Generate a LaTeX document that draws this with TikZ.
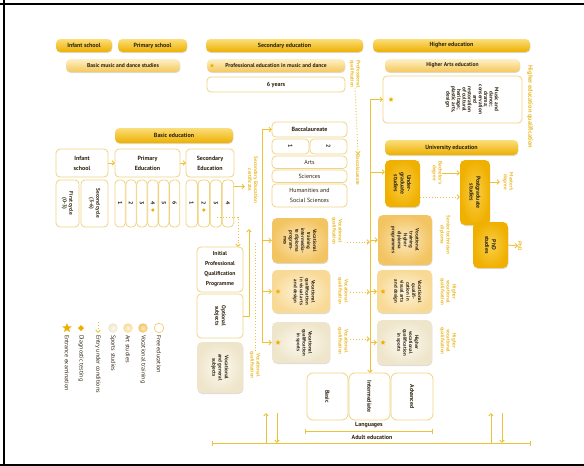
\documentclass[tikz,border=0pt]{standalone}
\usepackage{fontspec}
\setmainfont{PT Sans}
\usetikzlibrary{arrows.meta,shadows,shapes.geometric}

\definecolor{edgold}{HTML}{EEB000}
\definecolor{barTop}{HTML}{FBDD7A}
\definecolor{barLtTop}{HTML}{FDF0C8}
\definecolor{barLt}{HTML}{F5C85A}
\definecolor{edline}{HTML}{EBC238}
\definecolor{edframe}{HTML}{F0D382}
\definecolor{edtext}{HTML}{2E2410}
\definecolor{edlabel}{HTML}{E9BA2E}
\definecolor{vocOut}{HTML}{F3C462}
\definecolor{vocIn}{HTML}{FCE9BE}
\definecolor{artOut}{HTML}{F8DA96}
\definecolor{artIn}{HTML}{FEF4DC}
\definecolor{sptOut}{HTML}{EEE5CA}
\definecolor{sptIn}{HTML}{FCFAF1}
\definecolor{uniOut}{HTML}{F0B000}
\definecolor{uniIn}{HTML}{FAD04A}

\begin{document}
\begin{tikzpicture}[x=1pt,y=-1pt,
  every node/.style={inner sep=0pt,outer sep=0pt,text=edtext},
  sz/.style 2 args={minimum width=#1,minimum height=#2,anchor=north west},
  shade/.style={drop shadow={opacity=0.28,shadow xshift=0.4pt,shadow yshift=-1pt}},
  bar/.style={rounded corners=4.5pt,top color=barTop,bottom color=edgold,shade,
     font=\fontsize{6}{7}\selectfont\bfseries},
  barlt/.style={rounded corners=4.5pt,top color=barLtTop,bottom color=barLt,shade,
     font=\fontsize{5.6}{6.5}\selectfont\bfseries},
  wbox/.style={rounded corners=4pt,draw=edframe,line width=0.8pt,fill=white},
  vocbox/.style={rounded corners=5pt,inner color=vocIn,outer color=vocOut,shade},
  artbox/.style={rounded corners=5pt,inner color=artIn,outer color=artOut,shade},
  sptbox/.style={rounded corners=5pt,inner color=sptIn,outer color=sptOut,shade},
  unibox/.style={rounded corners=5pt,inner color=uniIn,outer color=uniOut,shade},
  ttl/.style={font=\fontsize{6}{10}\selectfont\bfseries,align=center},
  txt/.style={font=\fontsize{6}{10}\selectfont,align=center},
  rt/.style={rotate=-90,font=\fontsize{5}{5.9}\selectfont\bfseries,align=center},
  rtb/.style={rotate=-90,font=\fontsize{5.8}{6.6}\selectfont\bfseries,align=center},
  glabel/.style={rotate=-90,font=\fontsize{5.2}{5.9}\selectfont\bfseries,text=edlabel,align=center},
  legtxt/.style={rotate=-90,anchor=west,font=\fontsize{6}{7}\selectfont},
  ln/.style={draw=edline,line width=0.9pt},
  arr/.style={ln,-{Straight Barb[length=2.4pt,width=4.4pt]}},
  dots/.style={draw=edline,line width=0.9pt,dotted},
  dotarr/.style={dots,-{Straight Barb[length=2.4pt,width=4.4pt]}},
  barend/.style={ln,{Bar[width=5pt]}-{Bar[width=5pt]}},
  markstar/.style={star,star points=5,star point ratio=2.3,fill=edgold,minimum size=5.5pt},
  markdia/.style={diamond,fill=edgold,minimum size=3.5pt},
  frameline/.style={draw=black,line width=1.3pt},
]
\useasboundingbox (0,0) rectangle (584,466);

% outer rules
\draw[frameline] (0,4) -- (584,4);
\draw[frameline] (4,0) -- (4,466);
\draw[frameline] (0,465) -- (584,465);

% ---------- header rows ----------
\node[bar,sz={56}{13}] (hInf) at (56,39) {Infant school};
\node[bar,sz={69}{13}] (hPri) at (118,39) {Primary school};
\node[bar,sz={157}{13}] (hSec) at (206,39) {Secondary education};
\node[bar,sz={157}{13}] (hHi) at (373,39) {Higher education};
\node[barlt,sz={114}{13}] (hMus) at (66,59) {Basic music and dance studies};
\node[barlt,sz={138}{13}] (hPro) at (207,59) {Professional education in music and dance};
\node[markstar,minimum size=4.5pt] (sPro) at (212,65.5) {};
\node[barlt,sz={135}{13}] (hArt) at (385,59) {Higher Arts education};
\node[wbox,sz={138}{15},ttl] (six) at (207,77) {6 years};
\node[wbox,sz={139}{47}] (mus) at (383,76) {};
\node[rt,font=\fontsize{5.4}{5.4}\selectfont\bfseries] (musT) at (472,99.5) {Music and\\dance;\\drama;\\conservation\\and\\restoration\\of cultural\\heritage;\\plastic arts,\\design};
\node[markstar] (sMus) at (391,99.5) {};
\node[glabel] (lProf) at (355,74) {Professional\\qualification};
\node[glabel,font=\fontsize{6.4}{7}\selectfont\bfseries] (lHiQ) at (530,107) {Higher education qualification};

% ---------- basic education ----------
\node[bar,sz={118}{15}] (hBasic) at (115,128) {Basic education};
\node[wbox,sz={52}{28},ttl] (inf) at (56,149) {Infant\\school};
\node[wbox,sz={65}{28},ttl] (pri) at (115,149) {Primary\\Education};
\node[wbox,sz={48}{28},ttl] (sec) at (186,149) {Secondary\\Education};
\node[wbox,sz={23}{47}] (cyc1) at (56,180) {};
\node[rtb,font=\fontsize{5.4}{6.6}\selectfont\bfseries] at (cyc1.center) {First cycle\\(0-3)};
\node[wbox,sz={27}{47}] (cyc2) at (81,180) {};
\node[rtb,font=\fontsize{5.4}{6.6}\selectfont\bfseries] at (cyc2.center) {Second cycle\\(3-6)};
\foreach \i in {1,...,6}{
  \node[wbox,sz={10.3}{47}] (p\i) at ({115+(\i-1)*10.9},180) {};
  \node[rtb] at (p\i.center) {\i};
}
\foreach \i in {1,...,4}{
  \node[wbox,sz={11.4}{47}] (s\i) at ({186+(\i-1)*12.1},180) {};
  \node[rtb] at (s\i.center) {\i};
}
\node[markdia] (dP) at ([yshift=-6.5pt]p4.center) {};
\node[markdia] (dS) at ([yshift=-6.5pt]s2.center) {};

\draw[arr] (inf) -- (pri);
\draw[arr] (pri) -- (sec);

% ---------- baccalaureate ----------
\node[wbox,sz={75}{15},ttl] (bac) at (272,122) {Baccalaureate};
\node[wbox,sz={37}{15}] (b1) at (272,139) {};
\node[rtb] at (b1.center) {1};
\node[wbox,sz={37}{15}] (b2) at (310,139) {};
\node[rtb] at (b2.center) {2};
\node[wbox,sz={75}{12.5},txt] (arts) at (272,156) {Arts};
\node[wbox,sz={75}{12.5},txt] (sci) at (272,170) {Sciences};
\node[wbox,sz={75}{23},txt] (hum) at (272,184) {Humanities and\\Social Sciences};

% ---------- vocational, middle column ----------
\node[vocbox,sz={56}{45}] (vT) at (272,218) {};
\node[rt] at (vT.center) {Vocational\\training\\intermedia-\\te diploma\\program-\\mes};
\node[artbox,sz={58}{43}] (vA) at (272,270) {};
\node[rt] at ([xshift=3pt]vA.center) {Vocational\\qualification\\in visual arts\\and design};
\node[markstar] (sVA) at ([xshift=6pt]vA.west) {};
\node[sptbox,sz={58}{41}] (vS) at (272,322) {};
\node[rt] at ([xshift=3pt]vS.center) {Vocational\\qualification\\in sports};
\node[markstar] (sVS) at ([xshift=6pt]vS.west) {};

\node[glabel] (q1) at (337,231) {Vocational\\qualification};
\node[glabel] (q2) at (343,291) {Vocational\\qualification};
\node[glabel] (q3) at (343,341) {Vocational\\qualification};

% ---------- lower left column ----------
\node[wbox,sz={46}{45},ttl,font=\fontsize{5.7}{10}\selectfont\bfseries] (ipq) at (197,247) {Initial\\Professional\\Qualification\\Programme};
\node[wbox,sz={46}{44}] (opt) at (197,294) {};
\node[rt,font=\fontsize{5.6}{6.6}\selectfont\bfseries] at (opt.center) {Optional\\subjects};
\node[sptbox,sz={46}{51}] (vg) at (197,342) {};
\node[rt,font=\fontsize{5.2}{6.2}\selectfont\bfseries] at (vg.center) {Vocational\\and general\\subjects};
\node[glabel] (q4) at (255,365) {Vocational\\qualification};
\node[glabel] (cert) at (253,180) {Secondary Education\\certificate};

% ---------- university and higher vocational ----------
\node[bar,sz={133}{15}] (hUni) at (385,140) {University education};
\node[unibox,sz={35}{47}] (ug) at (385,160) {};
\node[rtb] at (ug.center) {Under-\\graduate\\studies};
\node[unibox,sz={30}{65}] (pg) at (460,160) {};
\node[rtb] at (pg.center) {Postgraduate\\studies};
\node[unibox,sz={35}{46}] (phd) at (473,222) {};
\node[rtb] at (phd.center) {PhD\\studies};
\node[vocbox,sz={54}{50}] (vTH) at (378,215) {};
\node[rt] at (vTH.center) {Vocational\\training\\higher\\diploma\\programmes};
\node[artbox,sz={55}{43}] (vAH) at (377,270) {};
\node[rt] at ([xshift=3pt]vAH.center) {Vocational\\qualifi-\\cation in\\visual arts\\and design};
\node[markstar] (sAH) at ([xshift=6pt]vAH.west) {};
\node[sptbox,sz={55}{45}] (vSH) at (377,320) {};
\node[rt] at ([xshift=3pt]vSH.center) {Higher\\vocational\\qualification\\in sports};
\node[markstar] (sSH) at ([xshift=6pt]vSH.west) {};

\node[glabel] (bach) at (437,173) {Bachelor's\\degree};
\node[glabel] (sen) at (445,235) {Senior technician\\diploma};
\node[glabel] (mast) at (508,182) {Master's\\degree};
\node[glabel] (phdl) at (520,246) {PhD};
\node[glabel] (hq1) at (448,292) {Higher\\vocational\\qualification};
\node[glabel] (hq2) at (448,341) {Higher\\vocational\\qualification};
\node[glabel] (bacl) at (358,170) {Baccalaureate};

% ---------- languages ----------
\node[wbox,rounded corners=6pt,sz={41}{47}] (lB) at (307,373) {};
\node[rt,font=\fontsize{5.8}{6.6}\selectfont\bfseries] at (lB.center) {Basic};
\node[wbox,rounded corners=6pt,sz={41}{47}] (lI) at (349,373) {};
\node[rt,font=\fontsize{5.8}{6.6}\selectfont\bfseries] at (lI.center) {Intermediate};
\node[wbox,rounded corners=6pt,sz={42}{47}] (lA) at (391,373) {};
\node[rt,font=\fontsize{5.8}{6.6}\selectfont\bfseries] at (lA.center) {Advanced};
\node[ttl,font=\fontsize{6}{7}\selectfont\bfseries] (lang) at (369,425) {Languages};
\node[ttl,font=\fontsize{6}{7}\selectfont\bfseries] (adult) at (372,437) {Adult education};

% ---------- connectors ----------
% secondary certificate
\coordinate (secOut) at (245,186.5);
\draw[arr] ([yshift=17pt]s4.east) -- (secOut);
% towards the initial programme
\coordinate (d1) at (217,217);
\coordinate (d2) at (238,217);
\draw[dotarr] (d1) -- (d2) -- (d2 |- ipq.north);
% optional subjects upwards
\coordinate (oTop) at (249,229);
\draw[arr] (opt.east) -| (oTop);
% dotted feed to the vocational qualification
\coordinate (qv) at (255,243);
\draw[dots] (qv) -- (q4.west);

% middle trunk
\coordinate (mT) at (262,129.5);
\coordinate (mB) at (262,342.5);
\draw[ln] (mT) -- (mB);
\draw[arr] (mT) -- (bac.west);
\draw[arr] (mT |- vT.west) -- (vT.west);
\draw[arr] (mT |- vA.west) -- (vA.west);
\draw[arr] (mB) -- (vS.west);

% professional qualification to baccalaureate
\draw[dotarr] (lProf.east) -- (bacl.west);

% right trunk
\coordinate (rT) at (370,99.5);
\draw[arr] (rT) -- (rT |- lI.north);
\draw[arr] (rT) -- (mus.west);
\draw[arr] (rT |- 0,172) -- ([yshift=11.5pt]ug.west);
\draw[arr] (rT |- vTH.west) -- (vTH.west);
\draw[arr] (rT |- vAH.west) -- (vAH.west);
\draw[arr] (rT |- vSH.west) -- (vSH.west);

% vocational qualifications onwards
\coordinate (v1) at (347,242);
\coordinate (v2) at (350,292);
\coordinate (v3) at (350,339);
\draw[dotarr] (v1) -- (v1 -| rT);
\draw[dotarr] (v2) -- (v2 -| rT);
\draw[dotarr] (v3) -- (v3 -| rT);

% university routes
\draw[arr] (bach.north) -- (bach.north -| pg.west);
\draw[dotarr] ([yshift=-13.5pt]ug.east) -- ([yshift=-13.5pt]ug.east -| pg.west);
\coordinate (mArr) at (500,182);
\draw[arr] (mArr -| pg.east) -- (mArr);
\draw[arr] (phd.east) -- (phdl.south);

% adult education
\coordinate (la) at (305,431);
\coordinate (lb) at (433,431);
\draw[barend] (la) -- (lb);
\coordinate (aa) at (212,443);
\coordinate (ab) at (531,443);
\draw[barend] (aa) -- (ab);
\coordinate (u1) at (266,413);
\coordinate (u2) at (277,413);
\coordinate (u3) at (491,413);
\coordinate (u4) at (502,413);
\draw[arr] (u1 |- aa) -- (u1);
\draw[arr] (u2) -- (u2 |- aa);
\draw[arr] (u3 |- aa) -- (u3);
\draw[arr] (u4) -- (u4 |- aa);

% ---------- key ----------
\node[circle,draw=edframe,line width=0.8pt,fill=white,minimum size=9.5pt] (kF) at (159,328) {};
\node[circle,inner color=vocIn,outer color=vocOut,minimum size=9.5pt] (kV) at (143,328) {};
\node[circle,inner color=artIn,outer color=artOut,minimum size=9.5pt] (kA) at (128,328) {};
\node[circle,inner color=sptIn,outer color=sptOut,minimum size=9.5pt] (kS) at (113,328) {};
\coordinate (kE1) at (98,322);
\coordinate (kE2) at (98,333);
\draw[dotarr] (kE1) -- (kE2);
\node[markdia,minimum size=6pt] (kD) at (81,328) {};
\node[markstar,minimum size=10pt] (kX) at (67,328) {};
\node[legtxt] at (159,335) {Free education};
\node[legtxt] at (143,335) {Vocational training};
\node[legtxt] at (128,335) {Art studies};
\node[legtxt] at (113,335) {Sports studies};
\node[legtxt] at (98,335) {Entry under conditions};
\node[legtxt] at (81,335) {Diagnostic testing};
\node[legtxt] at (67,335) {Entrance examination};
\end{tikzpicture}
\end{document}
